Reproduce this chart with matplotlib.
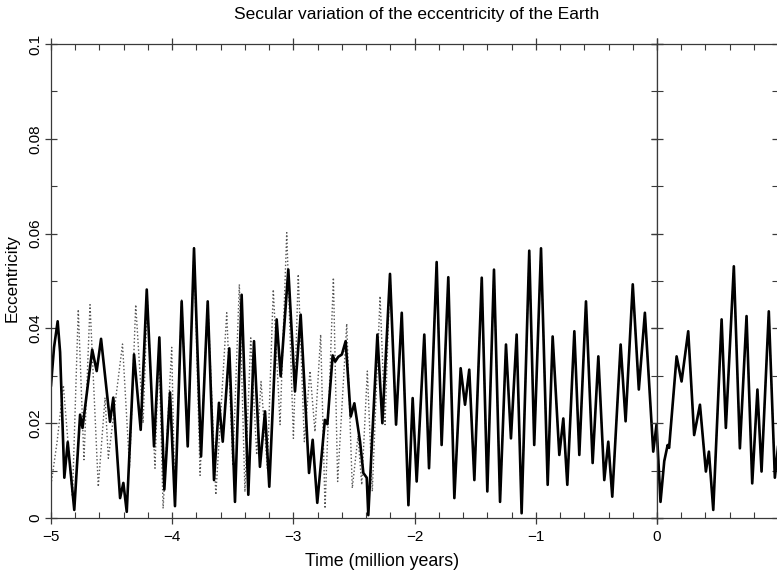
import matplotlib
matplotlib.use("Agg")
import matplotlib.pyplot as plt
from matplotlib.ticker import MultipleLocator, FixedLocator, FixedFormatter, NullFormatter

# ---------------- data ----------------
solid_t = [-5.00, -4.975, -4.945, -4.925, -4.89, -4.862, -4.808, -4.76, -4.74, -4.66,
           -4.623, -4.587, -4.513, -4.486, -4.43, -4.403, -4.375, -4.315, -4.26, -4.21,
           -4.15, -4.106, -4.065, -4.018, -3.977, -3.922, -3.872, -3.82, -3.762, -3.707,
           -3.655, -3.614, -3.583, -3.529, -3.482, -3.427, -3.372, -3.325, -3.276, -3.234,
           -3.199, -3.138, -3.105, -3.042, -2.987, -2.94, -2.871, -2.841, -2.803, -2.74,
           -2.72, -2.676, -2.655, -2.63, -2.60, -2.569, -2.527, -2.497, -2.45, -2.423,
           -2.395, -2.382, -2.307, -2.266, -2.203, -2.153, -2.106, -2.051, -2.016, -1.983,
           -1.92, -1.881, -1.818, -1.777, -1.722, -1.672, -1.62, -1.584, -1.549, -1.507,
           -1.446, -1.40, -1.345, -1.295, -1.246, -1.205, -1.158, -1.117, -1.054, -1.013,
           -0.957, -0.902, -0.861, -0.806, -0.773, -0.74, -0.682, -0.641, -0.586, -0.531,
           -0.484, -0.435, -0.402, -0.369, -0.30, -0.259, -0.20, -0.15, -0.10, -0.031,
           -0.004, 0.029, 0.06, 0.088, 0.10, 0.162, 0.203, 0.258, 0.307, 0.355,
           0.404, 0.429, 0.465, 0.534, 0.569, 0.635, 0.685, 0.74, 0.787, 0.83,
           0.864, 0.924, 0.974, 1.00]
solid_e = [0.028, 0.036, 0.0415, 0.035, 0.0085, 0.016, 0.0017, 0.0218, 0.019, 0.0355,
           0.031, 0.0378, 0.0203, 0.0254, 0.0042, 0.0074, 0.0013, 0.0345, 0.0186, 0.0482,
           0.0151, 0.0381, 0.006, 0.0265, 0.0025, 0.0457, 0.0151, 0.0569, 0.013, 0.0457,
           0.008, 0.0243, 0.0161, 0.0358, 0.0034, 0.0471, 0.0049, 0.0373, 0.0108, 0.0225,
           0.0066, 0.0419, 0.0299, 0.0524, 0.0267, 0.0429, 0.0095, 0.0165, 0.0032, 0.0207,
           0.0198, 0.0343, 0.0330, 0.0340, 0.0345, 0.0373, 0.0214, 0.0242, 0.0161, 0.0095,
           0.0085, 0.0006, 0.0387, 0.020, 0.0515, 0.0197, 0.0433, 0.0027, 0.0253, 0.0077,
           0.0387, 0.0105, 0.054, 0.0154, 0.0508, 0.0042, 0.0316, 0.0239, 0.0313, 0.008,
           0.0507, 0.0056, 0.0524, 0.0034, 0.0366, 0.0168, 0.0387, 0.001, 0.0564, 0.0154,
           0.0569, 0.007, 0.0383, 0.0133, 0.021, 0.007, 0.0394, 0.0133, 0.0457, 0.0116,
           0.0341, 0.008, 0.0161, 0.0045, 0.0366, 0.0204, 0.0493, 0.0271, 0.0433, 0.014,
           0.0197, 0.0034, 0.012, 0.0154, 0.0148, 0.0341, 0.0288, 0.0394, 0.0175, 0.0239,
           0.0098, 0.014, 0.0017, 0.0419, 0.019, 0.0531, 0.0147, 0.0426, 0.0073, 0.0271,
           0.0098, 0.0436, 0.0085, 0.015]

# dotted solution where it departs from the solid one (before about -2.2 Myr)
dotted_t = [-5.00, -4.95, -4.898, -4.823, -4.775, -4.728, -4.678, -4.61, -4.554, -4.527,
            -4.41, -4.352, -4.301, -4.24, -4.205, -4.142, -4.11, -4.075, -4.004, -3.977,
            -3.922, -3.872, -3.82, -3.77, -3.707, -3.64, -3.55, -3.50, -3.446, -3.40,
            -3.352, -3.303, -3.267, -3.215, -3.166, -3.11, -3.055, -3.00, -2.96, -2.91,
            -2.863, -2.822, -2.775, -2.739, -2.67, -2.635, -2.56, -2.514, -2.467, -2.436,
            -2.39, -2.349, -2.285, -2.244]
dotted_e = [0.007, 0.016, 0.028, 0.0045, 0.044, 0.0123, 0.045, 0.0066, 0.0254, 0.0126,
            0.0367, 0.0106, 0.045, 0.020, 0.046, 0.0105, 0.036, 0.002, 0.036, 0.0025,
            0.046, 0.015, 0.057, 0.009, 0.046, 0.0049, 0.0433, 0.011, 0.0493, 0.0055,
            0.038, 0.0133, 0.0288, 0.0105, 0.0482, 0.0197, 0.0602, 0.0168, 0.0514, 0.0161,
            0.031, 0.0182, 0.0387, 0.002, 0.0507, 0.0077, 0.041, 0.0063, 0.0173, 0.007,
            0.031, 0.0056, 0.0468, 0.0197]

# after -2.2 Myr the dotted curve lies on the solid one
dot_t = dotted_t + [t for t in solid_t if t > -2.22]
dot_e = dotted_e + [e for t, e in zip(solid_t, solid_e) if t > -2.22]

yticks = [0, 0.02, 0.04, 0.06, 0.08, 0.1]
ytick_labels = ["0", "0.02", "0.04", "0.06", "0.08", "0.1"]
xticks = [-5, -4, -3, -2, -1, 0]
xtick_labels = ["\u22125", "\u22124", "\u22123", "\u22122", "\u22121", "0"]

title = "Secular variation of the eccentricity of the Earth"
xlabel = "Time (million years)"
ylabel = "Eccentricity"

# ---------------- figure ----------------
plt.rcParams['font.family'] = ['Liberation Sans', 'DejaVu Sans']
W, H = 777, 575
fig = plt.figure(figsize=(W / 100, H / 100), dpi=100)

x0_px, xz_px, xr_px = 51, 657, 778
yb_px, yt_px = 518, 44
bottom = (H - yb_px) / H
height = (yb_px - yt_px) / H

ax1 = fig.add_axes([x0_px / W, bottom, (xz_px - x0_px) / W, height])
ax2 = fig.add_axes([xz_px / W, bottom, (xr_px - xz_px) / W, height])

spine_col = "#3a3a3a"
for ax in (ax1, ax2):
    ax.plot(dot_t, dot_e, color="#555555", lw=1.0, ls=(0, (1, 1.6)))
    ax.plot(solid_t, solid_e, color="black", lw=1.9, solid_joinstyle="round")
    ax.set_ylim(0, 0.1)
    ax.yaxis.set_major_locator(FixedLocator(yticks))
    ax.yaxis.set_minor_locator(MultipleLocator(0.01))
    ax.xaxis.set_minor_locator(MultipleLocator(0.2))
    ax.tick_params(which="major", direction="inout", length=9, width=0.9,
                   top=True, right=True, color=spine_col)
    ax.tick_params(which="minor", direction="in", length=4, width=0.8,
                   top=True, right=True, color=spine_col)
    for s in ax.spines.values():
        s.set_color(spine_col)
        s.set_linewidth(0.9)

ax1.set_xlim(-5, 0)
ax1.xaxis.set_major_locator(FixedLocator(xticks))
ax1.xaxis.set_major_formatter(FixedFormatter(xtick_labels))
ax1.yaxis.set_major_formatter(FixedFormatter(ytick_labels))
ax1.tick_params(axis="x", which="major", labelsize=11, pad=4)
ax1.tick_params(axis="y", which="major", labelsize=11, pad=2)
for lab in ax1.get_yticklabels():
    lab.set_rotation(90)
    lab.set_va("center")

ax2.set_xlim(0, 1)
ax2.xaxis.set_major_locator(MultipleLocator(1))
ax2.xaxis.set_major_formatter(NullFormatter())
ax2.yaxis.set_major_formatter(NullFormatter())

fig.text(417 / W, 1 - 15 / H, title, ha="center", va="center", fontsize=12.5)
fig.text(382 / W, 1 - 562 / H, xlabel, ha="center", va="center", fontsize=12.8)
fig.text(12 / W, 1 - 278 / H, ylabel, ha="center", va="center", rotation=90, fontsize=12.3)

fig.savefig("out.png", dpi=100)
